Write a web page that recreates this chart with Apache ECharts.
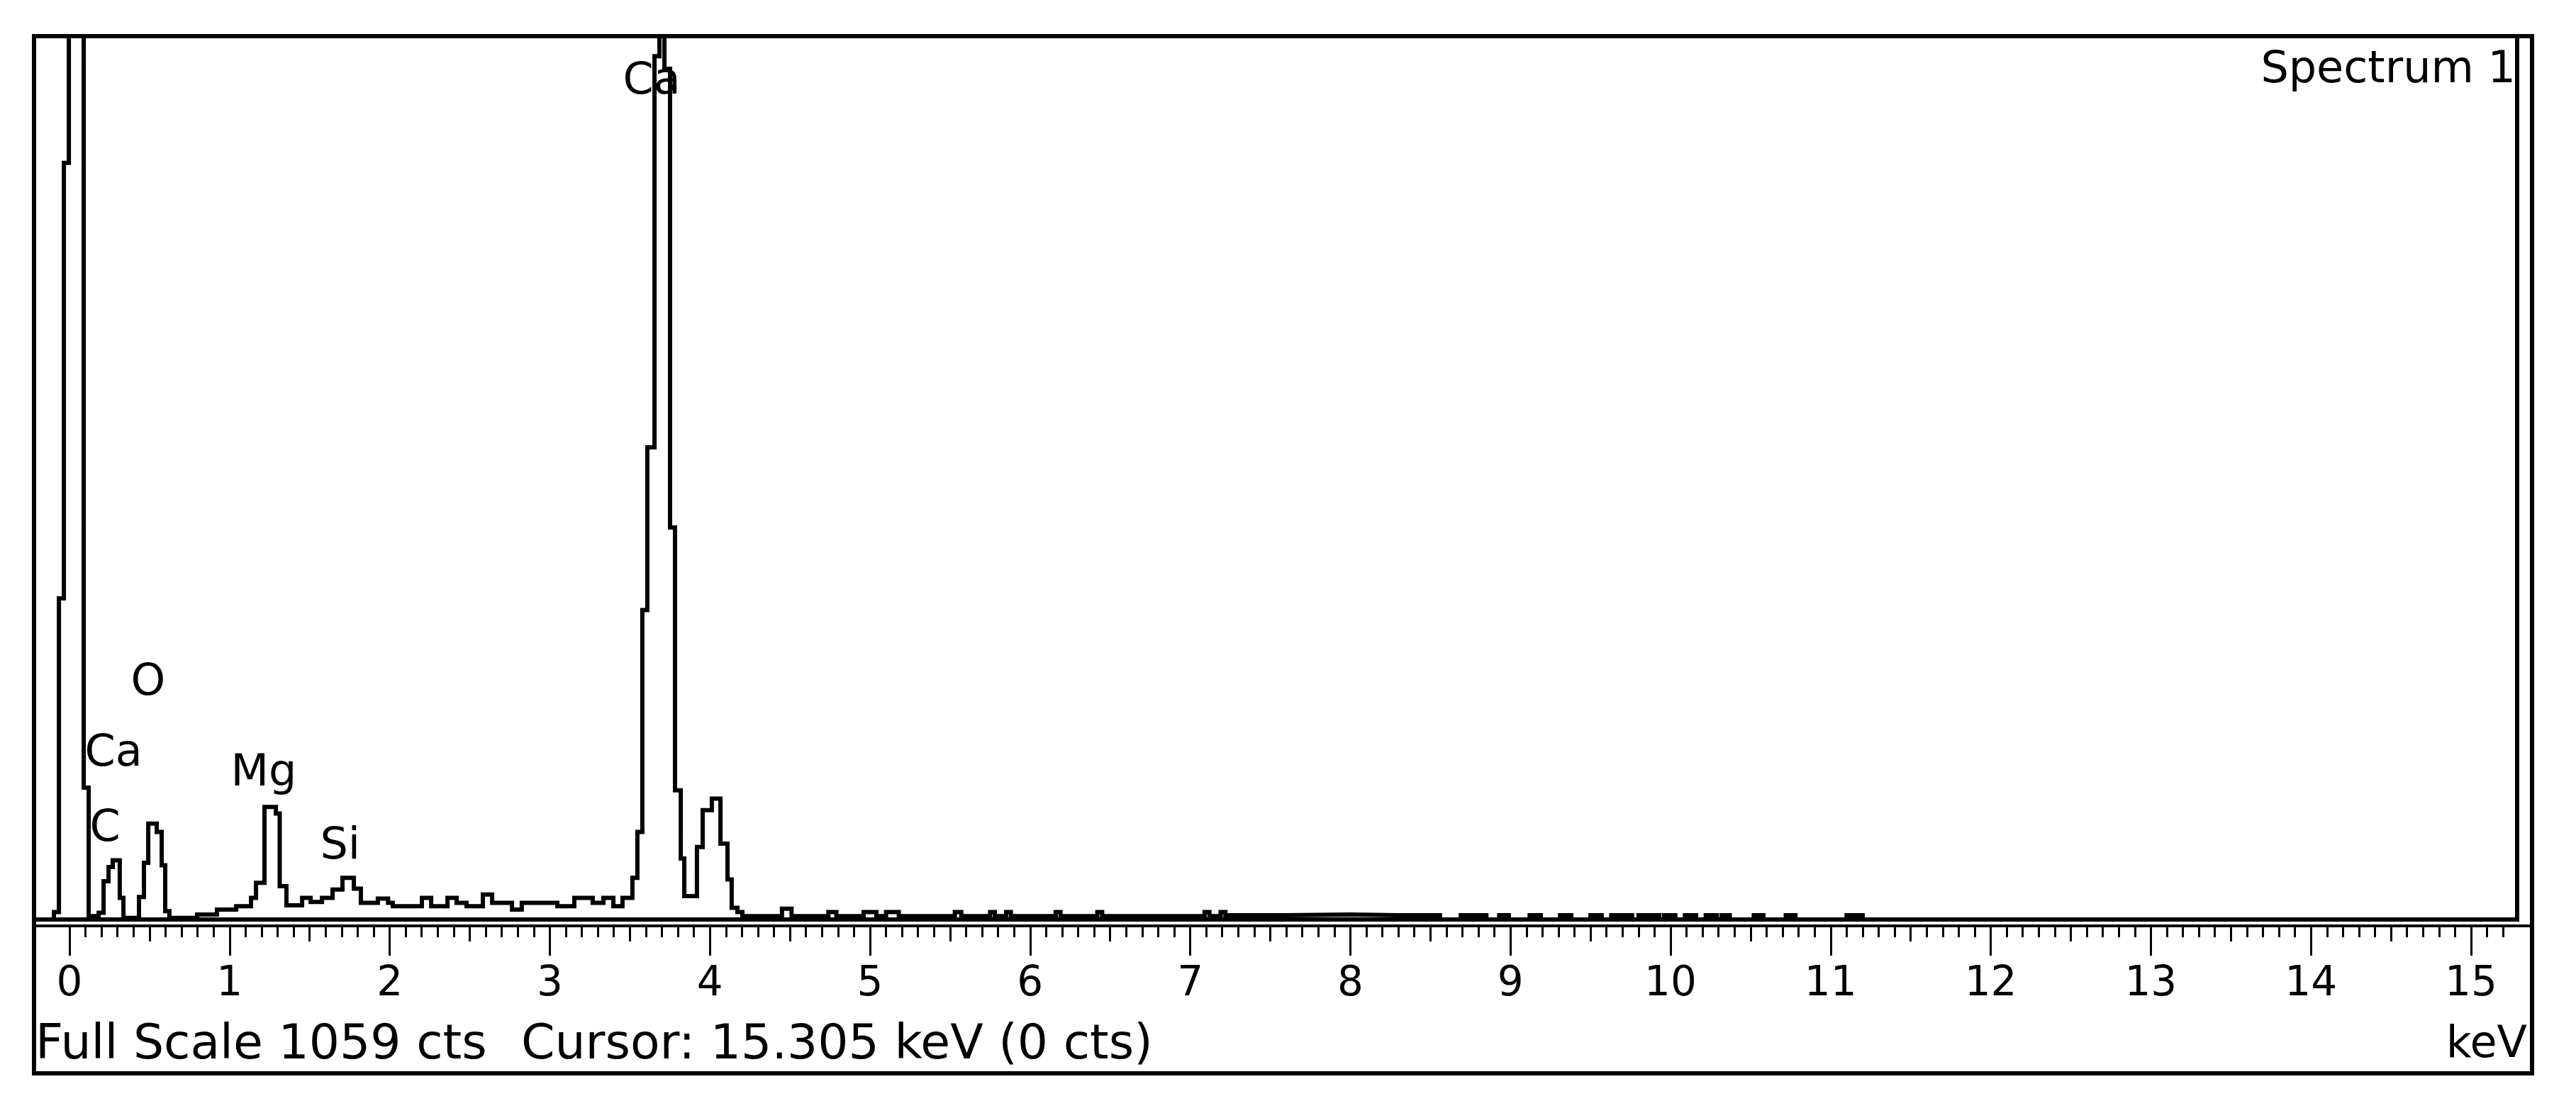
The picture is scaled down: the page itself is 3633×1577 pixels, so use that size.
<!DOCTYPE html>
<html><head><meta charset="utf-8">
<script src="https://cdn.jsdelivr.net/npm/echarts@6/dist/echarts.min.js"></script>
<style>html,body{margin:0;padding:0;background:#fff;} #c{width:3633px;height:1577px;}</style>
</head><body><div id="c"></div>
<script>
// ---- data (step histogram: left edge keV, counts) ----
const energyKeV = [
  -0.2214, -0.097, -0.066, -0.035, -0.004, 0.089, 0.120, 0.182, 0.213, 0.244,
  0.270, 0.314, 0.337, 0.434, 0.465, 0.492, 0.545, 0.576, 0.598, 0.624,
  0.797, 0.921, 1.041, 1.134, 1.165, 1.218, 1.289, 1.313, 1.355, 1.453,
  1.506, 1.577, 1.643, 1.705, 1.776, 1.820, 1.926, 1.990, 2.019, 2.201,
  2.259, 2.361, 2.418, 2.480, 2.582, 2.640, 2.764, 2.825, 3.047, 3.153,
  3.268, 3.335, 3.397, 3.454, 3.516, 3.547, 3.578, 3.609, 3.654, 3.685,
  3.716, 3.751, 3.782, 3.818, 3.840, 3.919, 3.955, 4.012, 4.066, 4.110,
  4.136, 4.172, 4.203, 4.45, 4.51, 4.74, 4.79, 4.96, 5.04, 5.10,
  5.18, 5.53, 5.57, 5.75, 5.78, 5.85, 5.88, 6.16, 6.19, 6.42,
  6.45, 7.09, 7.12, 7.19, 7.22, 7.60, 8.00, 8.30, 8.56, 8.69,
  8.85, 8.93, 8.99, 9.12, 9.19, 9.31, 9.38, 9.50, 9.57, 9.63,
  9.76, 9.80, 9.93, 9.96, 10.03, 10.09, 10.16, 10.22, 10.29, 10.32,
  10.37, 10.52, 10.58, 10.72, 10.78, 11.10, 11.20, 15.288
];
const counts = [
  0, 9, 385, 907, 1400, 158, 4, 8, 46, 63,
  71, 26, 2, 27, 68, 115, 105, 65, 10, 2,
  6, 12, 16, 26, 44, 135, 127, 40, 17, 26,
  21, 26, 36, 50, 37, 20, 25, 20, 16, 26,
  16, 26, 20, 16, 30, 20, 12, 20, 16, 26,
  20, 26, 16, 26, 50, 105, 371, 566, 1035, 1300,
  1020, 470, 155, 73, 28, 87, 131, 145, 91, 48,
  14, 9, 4, 13, 4, 9, 4, 9, 4, 9,
  4, 9, 4, 9, 4, 9, 4, 9, 4, 9,
  4, 9, 4, 9, 5, 6, 5, 5, 0, 5,
  0, 5, 0, 5, 0, 5, 0, 5, 0, 5,
  0, 5, 0, 5, 0, 5, 0, 5, 0, 5,
  0, 5, 0, 5, 0, 5, 0, 0
];
const peakNames   = ['Ca', 'O', 'Ca', 'Mg', 'C', 'Si'];
const peakLabelKeV = [3.454, 0.381, 0.093, 1.005, 0.124, 1.563];
const peakLabelCts = [1004, 283, 198, 174, 108, 87];
const majorTicks = [0,1,2,3,4,5,6,7,8,9,10,11,12,13,14,15];
const halfTicks = [0.5,1.5,2.5,3.5,4.5,5.5,6.5,7.5,8.5,9.5,10.5,11.5,12.5,13.5,14.5];
const fullScaleCts = 1059;
const cursorKeV = '15.305';
const cursorCts = 0;
const spectrumName = 'Spectrum 1';
const unitName = 'keV';

const minorTicks = [];
for (let i = 1; i <= 152; i++) minorTicks.push(i / 10);

const X_MIN = -0.2214, X_MAX = 15.288;
const FONT = 'DejaVu Sans';

const chart = echarts.init(document.getElementById('c'), null, {renderer: 'canvas'});

function rulerAxis(ticks, len, withLabels) {
  return {
    type: 'value', gridIndex: 0, position: 'bottom', offset: 9,
    min: X_MIN, max: X_MAX,
    axisLine: {show: false},
    splitLine: {show: false},
    axisTick: {show: true, customValues: ticks, length: len, lineStyle: {color: '#000', width: 3}},
    axisLabel: withLabels ? {
      show: true, customValues: majorTicks, color: '#000', fontFamily: FONT,
      fontSize: 58, lineHeight: 58, margin: 54, formatter: v => String(v)
    } : {show: false}
  };
}

const option = {
  backgroundColor: '#fff',
  animation: false,
  grid: {left: 48, right: 83, top: 51, bottom: 280, show: true,
         borderColor: '#000', borderWidth: 6, backgroundColor: 'transparent'},
  xAxis: [
    {type: 'value', min: X_MIN, max: X_MAX, show: false},
    rulerAxis(majorTicks, 42, true),
    rulerAxis(halfTicks, 22, false),
    rulerAxis(minorTicks, 16, false)
  ],
  yAxis: [{type: 'value', min: 0, max: fullScaleCts, show: false}],
  series: [
    {
      type: 'line', xAxisIndex: 0, yAxisIndex: 0, step: 'end', clip: true,
      symbol: 'none', silent: true,
      lineStyle: {color: '#000', width: 6, join: 'miter'},
      data: energyKeV.map((e, i) => [e, counts[i]])
    },
    {
      type: 'scatter', xAxisIndex: 0, yAxisIndex: 0, symbolSize: 1, silent: true, z: 5,
      itemStyle: {color: '#fff', opacity: 1},
      label: {show: true, position: 'right', distance: 0, color: '#000', opacity: 1,
              fontFamily: FONT, fontSize: 62, formatter: p => p.name},
      data: peakNames.map((n, i) => ({name: n, value: [peakLabelKeV[i], peakLabelCts[i]]}))
    }
  ],
  graphic: [
    {type: 'rect', silent: true, z: 100,
     shape: {x: 48, y: 51, width: 3523, height: 1463},
     style: {fill: 'transparent', stroke: '#000', lineWidth: 6}},
    {type: 'line', silent: true, z: 100,
     shape: {x1: 48, y1: 1306, x2: 3571, y2: 1306},
     style: {stroke: '#000', lineWidth: 4}},
    {type: 'text', silent: true, z: 100, x: 3548, y: 100,
     style: {text: spectrumName, fill: '#000', fontFamily: FONT, fontSize: 62, align: 'right', verticalAlign: 'middle'}},
    {type: 'text', silent: true, z: 100, x: 50, y: 1475,
     style: {text: 'Full Scale ' + fullScaleCts + ' cts', fill: '#000', fontFamily: FONT, fontSize: 68, align: 'left', verticalAlign: 'middle'}},
    {type: 'text', silent: true, z: 100, x: 735, y: 1475,
     style: {text: 'Cursor: ' + cursorKeV + ' keV (' + cursorCts + ' cts)', fill: '#000', fontFamily: FONT, fontSize: 68, align: 'left', verticalAlign: 'middle'}},
    {type: 'text', silent: true, z: 100, x: 3564, y: 1475,
     style: {text: unitName, fill: '#000', fontFamily: FONT, fontSize: 62, align: 'right', verticalAlign: 'middle'}}
  ]
};
chart.setOption(option);
</script>
</body></html>
